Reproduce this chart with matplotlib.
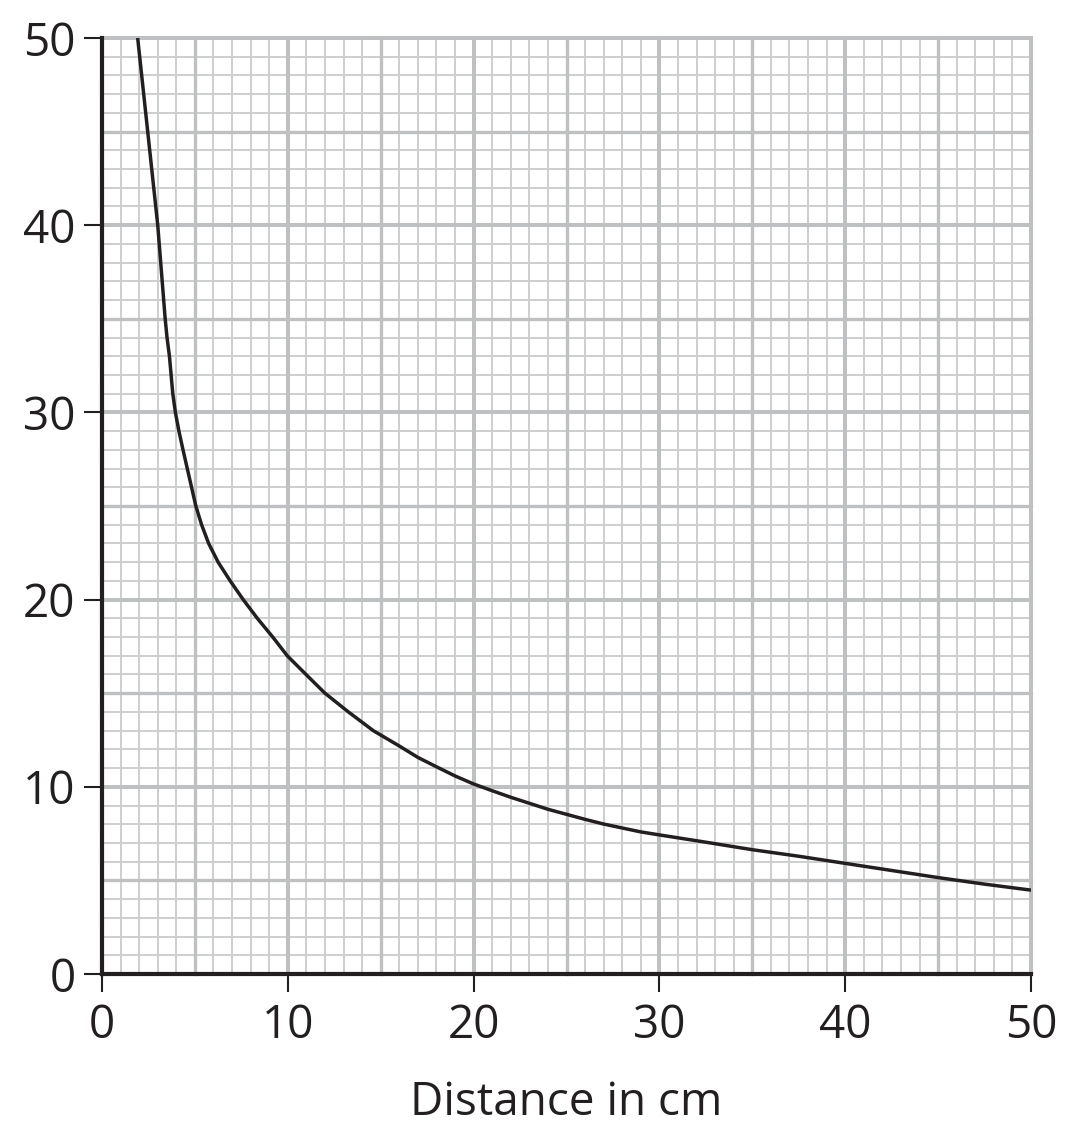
import matplotlib
matplotlib.use("Agg")
import matplotlib.pyplot as plt

INK = "#231f20"
GRID = "#bfc0c2"
GRID_MINOR = "#cdcecf"

# curve (distance in cm, value)
distance = [1.92, 2.19, 2.46, 2.73, 3.00, 3.20, 3.40, 3.50, 3.63, 3.72, 3.81,
            3.95, 4.14, 4.36, 4.59, 4.82, 5.05, 5.36, 5.74, 6.25, 6.90, 7.60,
            8.36, 9.19, 9.97, 10.98, 12.0, 13.26, 14.6, 16.0, 17.0, 18.0, 19.0,
            20.0, 21.0, 22.0, 23.0, 24.0, 25.0, 26.0, 27.0, 28.0, 29.0, 30.0,
            32.5, 35.0, 37.5, 40.0, 42.5, 45.0, 47.5, 50.0]
value = [50.0, 47.5, 45.0, 42.5, 40.0, 37.5, 35.0, 34.0, 33.0, 32.0, 31.0,
         30.0, 29.0, 28.0, 27.0, 26.0, 25.0, 24.0, 23.0, 22.0, 21.0, 20.0,
         19.0, 18.0, 17.0, 16.0, 15.0, 14.0, 13.0, 12.18, 11.57, 11.07, 10.58,
         10.15, 9.79, 9.44, 9.12, 8.80, 8.53, 8.26, 8.01, 7.80, 7.59, 7.43,
         7.04, 6.64, 6.29, 5.91, 5.53, 5.15, 4.80, 4.48]

x_ticks = [0, 10, 20, 30, 40, 50]
y_ticks = [0, 10, 20, 30, 40, 50]

plt.rcParams["font.family"] = ["Open Sans", "DejaVu Sans"]

fig = plt.figure(figsize=(10.74, 11.39), dpi=100)
ax = fig.add_axes([102 / 1074, 1 - 974 / 1139, 929 / 1074, 936 / 1139])
ax.set_xlim(0, 50)
ax.set_ylim(0, 50)

# graph-paper grid: every 1, every 5, every 10
for v in range(0, 51):
    if v % 10 == 0:
        lw, col, z = 2.9, GRID, 2
    elif v % 5 == 0:
        lw, col, z = 2.4, GRID, 2
    else:
        lw, col, z = 1.4, GRID_MINOR, 1
    ax.axvline(v, color=col, lw=lw, zorder=z, clip_on=False)
    ax.axhline(v, color=col, lw=lw, zorder=z, clip_on=False)

ax.plot(distance, value, color=INK, lw=2.5, zorder=4,
        solid_capstyle="butt", solid_joinstyle="round")

for s in ("top", "right"):
    ax.spines[s].set_visible(False)
for s in ("left", "bottom"):
    ax.spines[s].set_linewidth(3.0)
    ax.spines[s].set_color(INK)
    ax.spines[s].set_zorder(5)

ax.set_xticks(x_ticks)
ax.set_yticks(y_ticks)
ax.set_xticklabels([str(t) for t in x_ticks])
ax.set_yticklabels([str(t) for t in y_ticks])
ax.tick_params(axis="both", direction="out", length=13, width=1.5,
               color=INK, labelcolor=INK, labelsize=33)
ax.tick_params(axis="y", pad=6)
ax.tick_params(axis="x", pad=8)

ax.set_xlabel("Distance in cm", fontsize=33, color=INK, labelpad=22)

fig.savefig("out.png", dpi=100)
